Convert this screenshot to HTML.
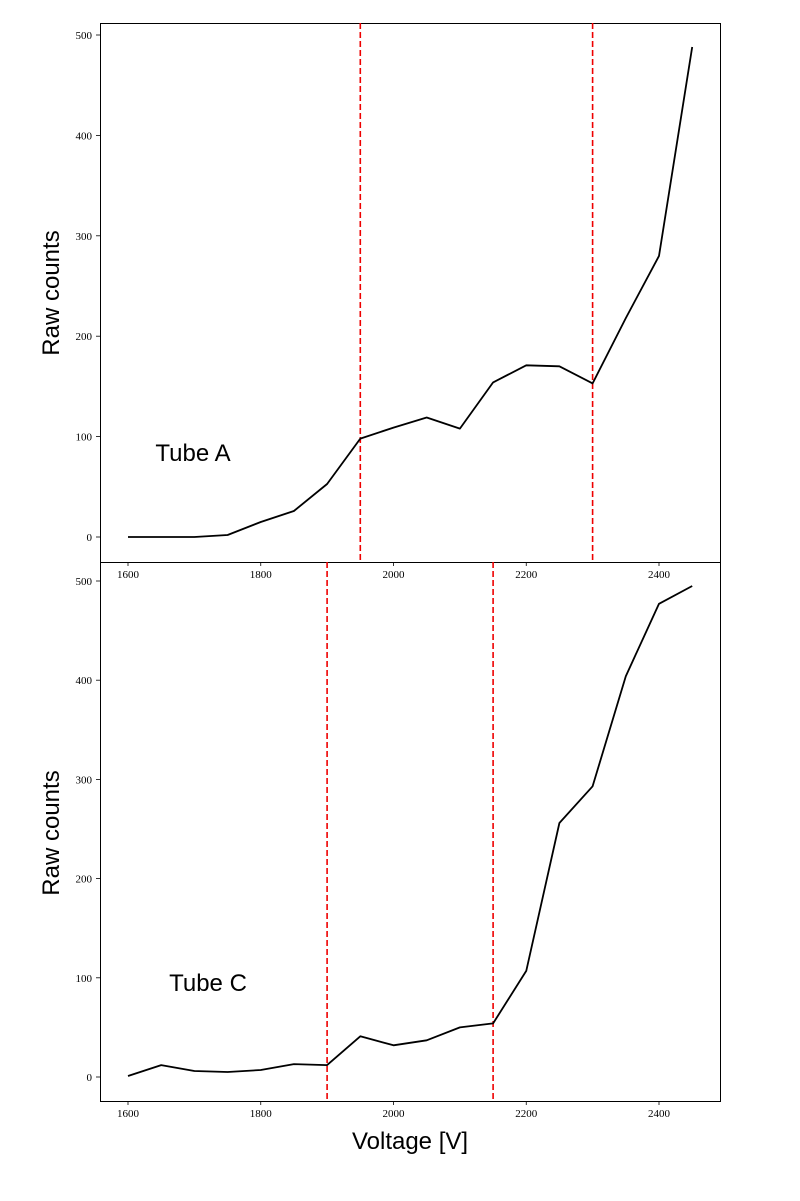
<!DOCTYPE html>
<html><head><meta charset="utf-8"><style>body{margin:0;background:#fff}</style></head><body>
<svg width="800" height="1196" xmlns="http://www.w3.org/2000/svg" font-family="Liberation Serif, serif">
<rect width="800" height="1196" fill="#fff"/>
<g fill="none" stroke="#000" stroke-width="1">
<rect x="100.5" y="23.5" width="620" height="539"/>
<rect x="100.5" y="562.5" width="620" height="539"/>
</g>
<!-- ticks top -->
<g stroke="#000" stroke-width="0.8">
<line x1="100" x2="96" y1="537" y2="537"/><line x1="100" x2="96" y1="436.6" y2="436.6"/><line x1="100" x2="96" y1="336.2" y2="336.2"/><line x1="100" x2="96" y1="235.8" y2="235.8"/><line x1="100" x2="96" y1="135.4" y2="135.4"/><line x1="100" x2="96" y1="35" y2="35"/>
<line x1="128" x2="128" y1="562" y2="566"/><line x1="260.75" x2="260.75" y1="562" y2="566"/><line x1="393.5" x2="393.5" y1="562" y2="566"/><line x1="526.25" x2="526.25" y1="562" y2="566"/><line x1="659" x2="659" y1="562" y2="566"/>
<line x1="100" x2="96" y1="1077" y2="1077"/><line x1="100" x2="96" y1="977.8" y2="977.8"/><line x1="100" x2="96" y1="878.6" y2="878.6"/><line x1="100" x2="96" y1="779.4" y2="779.4"/><line x1="100" x2="96" y1="680.2" y2="680.2"/><line x1="100" x2="96" y1="581" y2="581"/>
<line x1="128" x2="128" y1="1101" y2="1105"/><line x1="260.75" x2="260.75" y1="1101" y2="1105"/><line x1="393.5" x2="393.5" y1="1101" y2="1105"/><line x1="526.25" x2="526.25" y1="1101" y2="1105"/><line x1="659" x2="659" y1="1101" y2="1105"/>
</g>
<g font-size="11" text-anchor="end">
<text x="92" y="541">0</text><text x="92" y="440.6">100</text><text x="92" y="340.2">200</text><text x="92" y="239.8">300</text><text x="92" y="139.4">400</text><text x="92" y="39">500</text>
<text x="92" y="1081">0</text><text x="92" y="981.8">100</text><text x="92" y="882.6">200</text><text x="92" y="783.4">300</text><text x="92" y="684.2">400</text><text x="92" y="585">500</text>
</g>
<g font-size="11" text-anchor="middle">
<text x="128" y="578">1600</text><text x="260.75" y="578">1800</text><text x="393.5" y="578">2000</text><text x="526.25" y="578">2200</text><text x="659" y="578">2400</text>
<text x="128" y="1117">1600</text><text x="260.75" y="1117">1800</text><text x="393.5" y="1117">2000</text><text x="526.25" y="1117">2200</text><text x="659" y="1117">2400</text>
</g>
<g stroke="#e00" stroke-width="1.6" stroke-dasharray="6,3">
<line x1="360.3" x2="360.3" y1="23" y2="562"/><line x1="592.6" x2="592.6" y1="23" y2="562"/>
<line x1="327.1" x2="327.1" y1="562" y2="1101"/><line x1="493.1" x2="493.1" y1="562" y2="1101"/>
</g>
<g fill="none" stroke="#000" stroke-width="1.8" stroke-linejoin="round">
<polyline points="128,537 161.2,537 194.4,537 227.6,535 260.75,522 293.9,511 327.1,484 360.3,438.6 393.5,427.6 426.7,417.5 459.9,428.6 493.1,382.4 526.25,365.3 559.4,366.3 592.6,383.4 625.8,318.1 659,255.9 692.2,47"/>
<polyline points="128,1076 161.2,1065.1 194.4,1071 227.6,1072 260.75,1070 293.9,1064.1 327.1,1065.1 360.3,1036.3 393.5,1045.3 426.7,1040.3 459.9,1027.4 493.1,1023.4 526.25,970.9 559.4,823 592.6,786.3 625.8,676.2 659,603.8 692.2,586"/>
</g>
<g font-family="Liberation Sans, DejaVu Sans, sans-serif" font-size="24" text-anchor="middle">
<text transform="translate(59,293) rotate(-90)">Raw counts</text>
<text transform="translate(59,833) rotate(-90)">Raw counts</text>
<text x="410" y="1149">Voltage [V]</text>
<text x="193" y="461">Tube A</text>
<text x="208" y="991">Tube C</text>
</g>
</svg>
</body></html>
